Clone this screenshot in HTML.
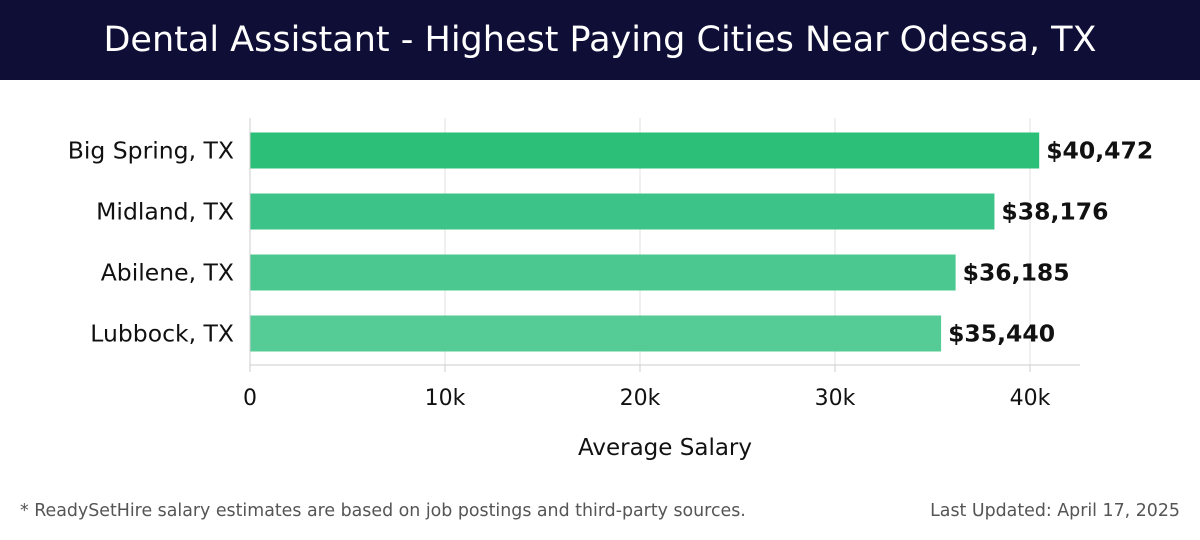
<!DOCTYPE html>
<html><head><meta charset="utf-8"><style>
body{margin:0;width:1200px;height:540px;background:#fff;font-family:"DejaVu Sans","Liberation Sans",sans-serif;overflow:hidden;position:relative}
#hdr{position:absolute;left:0;top:0;width:1200px;height:80px;background:#0e0e36;color:#fff;font-size:35px;text-align:center;line-height:80px;font-family:"DejaVu Sans","Liberation Sans",sans-serif;font-weight:400}
.foot{position:absolute;top:501px;font-size:17.4px;color:#555}
</style></head><body>
<div id="hdr">Dental Assistant - Highest Paying Cities Near Odessa, TX</div>
<svg id="chart" width="1200" height="540" style="position:absolute;left:0;top:0"></svg>
<div class="foot" style="left:20px">* ReadySetHire salary estimates are based on job postings and third-party sources.</div>
<div class="foot" style="right:20px">Last Updated: April 17, 2025</div>
<script>
const cities=["Big Spring, TX","Midland, TX","Abilene, TX","Lubbock, TX"];
const salaries=[40472,38176,36185,35440];
const labels=["$40,472","$38,176","$36,185","$35,440"];
const ticks=[0,10000,20000,30000,40000];
const tickLabels=["0","10k","20k","30k","40k"];
const colors=["#2bbf77","#3cc488","#4ac88f","#55cb96"];
const NS="http://www.w3.org/2000/svg",svg=document.getElementById('chart');
const x=v=>250+v*780/40000;
const band=61,top0=119,bh=36;
const y=i=>top0+i*band+(band-bh)/2+1;
function mk(t,a){const e=document.createElementNS(NS,t);for(const k in a)e.setAttribute(k,a[k]);svg.appendChild(e);return e;}
ticks.forEach((t,i)=>{
 const g=mk('line',{x1:x(t),x2:x(t),y1:118,y2:365,stroke:'#e0e0e0','stroke-width':1});
 
 
 const tk=mk('line',{x1:x(t),x2:x(t),y1:365,y2:372,stroke:'#ccc'});
 
 
 const tl=mk('text',{x:x(t),y:405,'text-anchor':'middle','font-size':22,fill:'#111'});
 tl.textContent=tickLabels[i];
 
 
});
const ax=mk('line',{x1:250,x2:1080,y1:365,y2:365,stroke:'#ccc'});


cities.forEach((c,i)=>{
 const r=mk('rect',{x:x(0),y:y(i),width:x(salaries[i])-x(0),height:bh,fill:colors[i]});
 
 
 const l=mk('text',{x:234,y:y(i)+bh/2+8,'text-anchor':'end','font-size':23.5,fill:'#111'});
 l.textContent=c;
 
 
 const v=mk('text',{x:x(salaries[i])+7,y:y(i)+bh/2+8,'font-size':23.5,'font-weight':'bold',fill:'#111'});
 v.textContent=labels[i];
 
 
});
const ay=mk('line',{x1:250,x2:250,y1:118,y2:365,stroke:'#ccc'});


const at=mk('text',{x:665,y:455,'text-anchor':'middle','font-size':23,fill:'#111'});
at.textContent="Average Salary";


</script>
</body></html>
